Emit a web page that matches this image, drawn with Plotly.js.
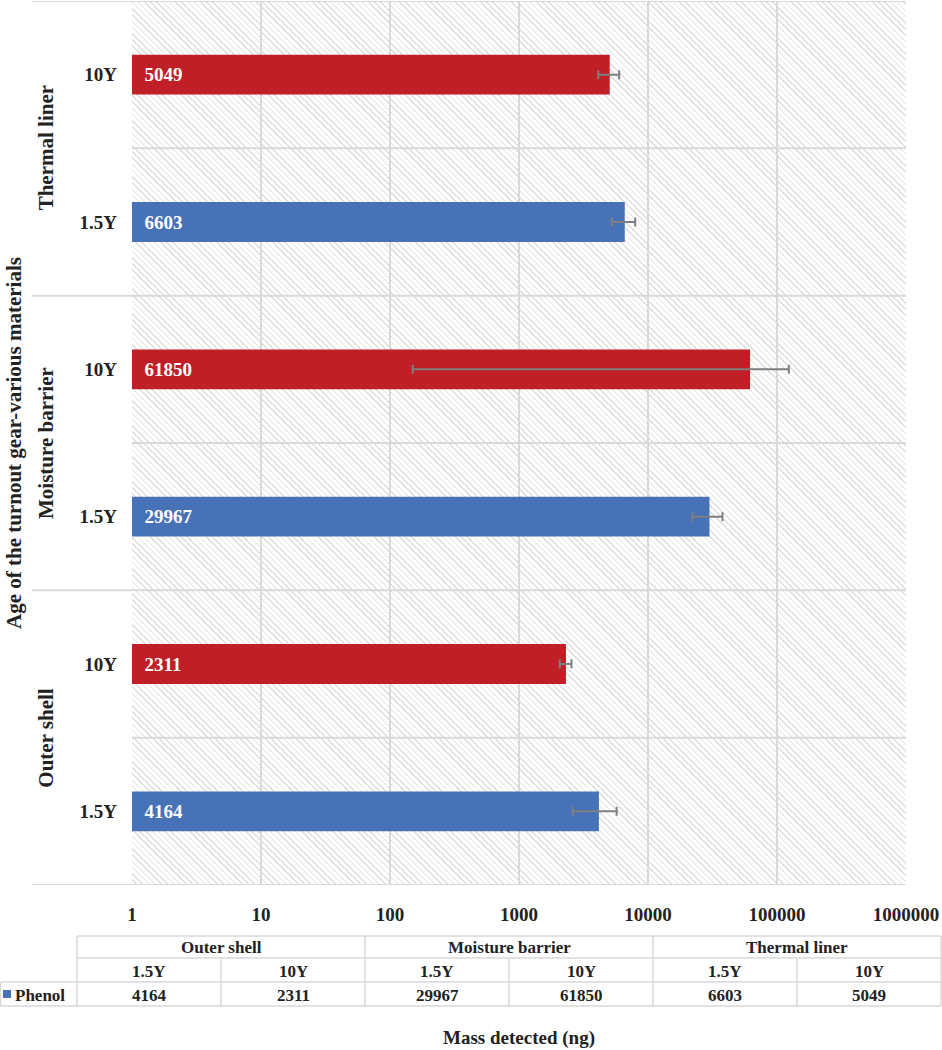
<!DOCTYPE html>
<html>
<head>
<meta charset="utf-8">
<script src="https://cdn.plot.ly/plotly-3.0.1.min.js"></script>
<style>
  html, body { margin: 0; padding: 0; background: #ffffff; }
  #wrap { position: relative; width: 942px; height: 1050px; }
  #hatch {
    position: absolute; left: 132px; top: 1px; width: 774px; height: 884px; z-index: 0;
    background: repeating-linear-gradient(45deg, #ffffff 0px, #ffffff 3.3px, #dedede 3.3px, #dedede 4.4px);
  }
  #chart { position: absolute; left: 0; top: 0; width: 942px; height: 1050px; z-index: 1; }
</style>
</head>
<body>
<div id="wrap">
  <div id="hatch"></div>
  <div id="chart"></div>
</div>
<script>
// ---------- data ----------
const materials = ['Outer shell', 'Moisture barrier', 'Thermal liner'];
const ages = ['1.5Y', '10Y'];
const seriesName = 'Phenol';
// order: Outer shell 1.5Y, Outer shell 10Y, Moisture barrier 1.5Y, Moisture barrier 10Y, Thermal liner 1.5Y, Thermal liner 10Y
const phenolMass = [4164, 2311, 29967, 61850, 6603, 5049];
const phenolError = [1550, 240, 7800, 61700, 1350, 930];
const xTickValues = [1, 10, 100, 1000, 10000, 100000, 1000000];
const xTickLabels = ['1', '10', '100', '1000', '10000', '100000', '1000000'];
const xAxisTitle = 'Mass detected (ng)';
const yAxisTitle = 'Age of the turnout gear-various materials';
const ageColors = {'1.5Y': '#4872b8', '10Y': '#c01f27'};

// ---------- derived ----------
const keys = [], tickText = [], barColors = [];
materials.forEach(m => ages.forEach(a => { keys.push(m + ' ' + a); tickText.push(a); barColors.push(ageColors[a]); }));

const FONT = "'Liberation Serif', 'Times New Roman', serif";
const TXT = '#222222';
const GRID = '#d9d9d9';

// plot area in pixels
const PL = 132, PR = 906, PT = 1, PB = 885;
const px2x = p => (p - PL) / (PR - PL);
const py2y = p => (PB - p) / (PB - PT);

const trace = {
  type: 'bar', orientation: 'h', name: seriesName,
  x: phenolMass, y: keys,
  width: 0.27,
  marker: {color: barColors, line: {width: 0}},
  text: phenolMass.map(v => String(v)),
  texttemplate: '\u00a0\u00a0%{text}',
  textposition: 'inside', insidetextanchor: 'start', constraintext: 'none',
  textfont: {family: FONT, size: 19, color: '#ffffff', weight: 'bold'},
  error_x: {type: 'data', array: phenolError, symmetric: true, color: '#7f7f7f', thickness: 2, width: 4.5},
  hoverinfo: 'x+y'
};

const shapes = [];
const annotations = [];
// horizontal gridlines at category boundaries
for (let i = 0; i <= keys.length; i++) {
  shapes.push({type: 'line', xref: 'paper', yref: 'y', x0: 0, x1: 1, y0: i - 0.5, y1: i - 0.5,
    line: {color: GRID, width: 2}, layer: 'below'});
}
// group separators extending to the left
for (let g = 0; g <= materials.length; g++) {
  const yb = g * ages.length - 0.5;
  shapes.push({type: 'line', xref: 'paper', yref: 'y', x0: px2x(32), x1: 0, y0: yb, y1: yb,
    line: {color: GRID, width: 2}});
}
// group labels
materials.forEach((m, g) => {
  annotations.push({text: m, xref: 'paper', yref: 'y', x: px2x(46), y: g * ages.length + (ages.length - 1) / 2,
    textangle: -90, showarrow: false, xanchor: 'center', yanchor: 'middle',
    font: {family: FONT, size: 21, color: TXT, weight: 'bold'}});
});
// y axis title
annotations.push({text: yAxisTitle, xref: 'paper', yref: 'paper', x: px2x(14), y: 0.5, textangle: -90,
  showarrow: false, xanchor: 'center', yanchor: 'middle', font: {family: FONT, size: 21, color: TXT, weight: 'bold'}});
// x axis title
annotations.push({text: xAxisTitle, xref: 'paper', yref: 'paper', x: 0.5, y: py2y(1038),
  showarrow: false, xanchor: 'center', yanchor: 'middle', font: {family: FONT, size: 19, color: TXT, weight: 'bold'}});

// ---------- data table ----------
const tL = 77, colW = 144, rows = [936, 958, 982, 1006];
const tR = tL + colW * keys.length;
const tline = (x0, y0, x1, y1) => shapes.push({type: 'line', xref: 'paper', yref: 'paper',
  x0: px2x(x0), x1: px2x(x1), y0: py2y(y0), y1: py2y(y1), line: {color: GRID, width: 1.5}});
tline(tL, rows[0], tR, rows[0]);
tline(tL, rows[1], tR, rows[1]);
tline(0.5, rows[2], tR, rows[2]);
tline(0.5, rows[3], tR, rows[3]);
tline(0.5, rows[2], 0.5, rows[3]);
for (let c = 0; c <= keys.length; c++) {
  const x = tL + c * colW;
  const top = (c % ages.length === 0) ? rows[0] : rows[1];
  tline(x, top, x, rows[3]);
}
const tfont = {family: FONT, size: 17, color: TXT, weight: 'bold'};
const tann = (text, xc, yc, anchor) => annotations.push({text: text, xref: 'paper', yref: 'paper',
  x: px2x(xc), y: py2y(yc), showarrow: false, xanchor: anchor || 'center', yanchor: 'middle', font: tfont});
materials.forEach((m, g) => tann(m, tL + colW * ages.length * (g + 0.5), (rows[0] + rows[1]) / 2));
keys.forEach((k, i) => {
  tann(tickText[i], tL + colW * (i + 0.5), (rows[1] + rows[2]) / 2 + 1);
  tann(String(phenolMass[i]), tL + colW * (i + 0.5), (rows[2] + rows[3]) / 2 + 1);
});
// legend key in table
shapes.push({type: 'rect', xref: 'paper', yref: 'paper', x0: px2x(3), x1: px2x(11), y0: py2y(998), y1: py2y(990),
  fillcolor: ageColors['1.5Y'], line: {width: 0}});
tann(seriesName, 13, (rows[2] + rows[3]) / 2 + 1, 'left');

const layout = {
  width: 942, height: 1050,
  margin: {l: PL, r: 942 - PR, t: PT, b: 1050 - PB, pad: 0},
  paper_bgcolor: 'rgba(0,0,0,0)', plot_bgcolor: 'rgba(0,0,0,0)',
  showlegend: false,
  bargap: 0.73,
  xaxis: {
    type: 'log', range: [0, 6],
    tickvals: xTickValues, ticktext: xTickLabels,
    showgrid: true, gridcolor: GRID, gridwidth: 2,
    zeroline: false, showline: false, ticks: '',
    ticklabelstandoff: 16,
    tickfont: {family: FONT, size: 19, color: TXT, weight: 'bold'}
  },
  yaxis: {
    type: 'category', categoryorder: 'array', categoryarray: keys,
    range: [-0.5, keys.length - 0.5],
    tickvals: keys, ticktext: tickText,
    showgrid: false, zeroline: false, showline: false, ticks: '',
    ticklabelstandoff: 14,
    tickfont: {family: FONT, size: 19, color: TXT, weight: 'bold'}
  },
  shapes: shapes,
  annotations: annotations
};

Plotly.newPlot('chart', [trace], layout, {displayModeBar: false, staticPlot: true});
</script>
</body>
</html>
